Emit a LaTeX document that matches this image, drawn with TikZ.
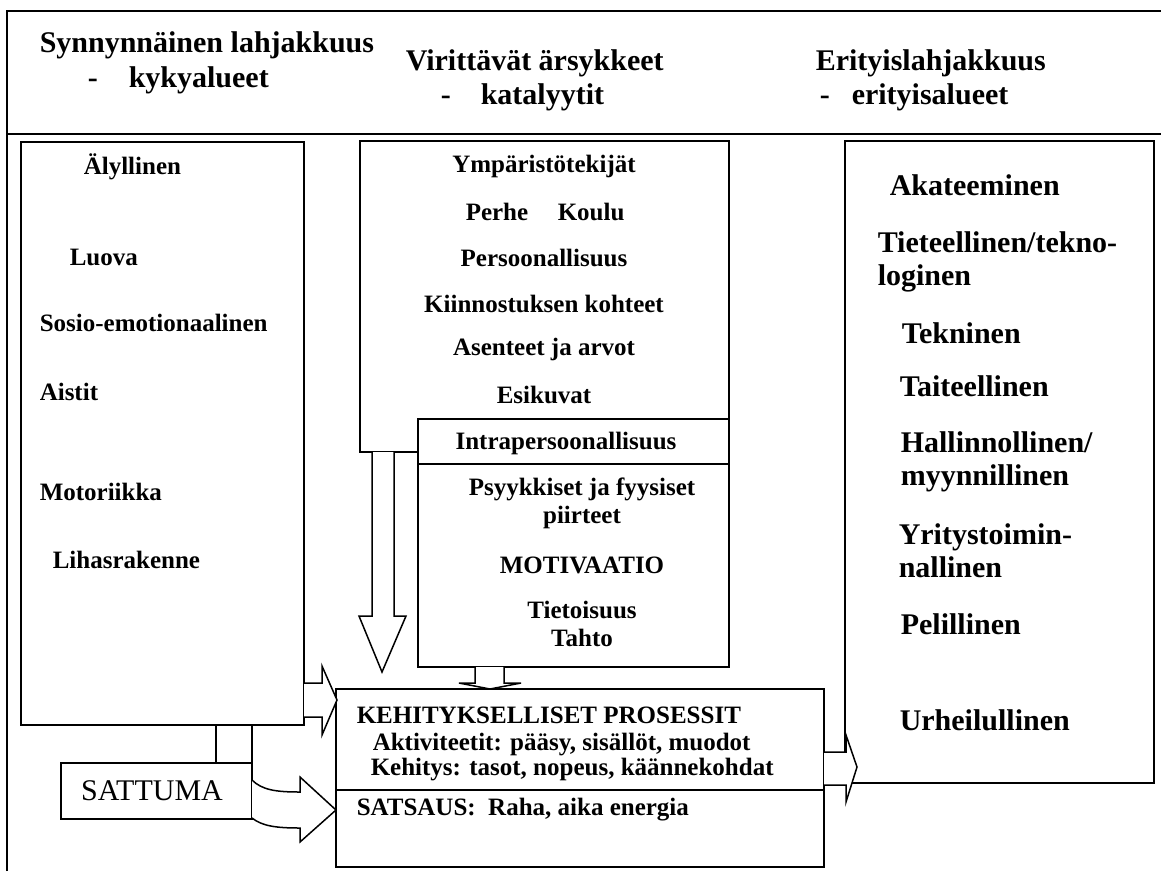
\documentclass[tikz,border=0pt]{standalone}
\usepackage{fontspec}
\setmainfont{Liberation Serif}

\begin{document}
\begin{tikzpicture}[x=1pt, y=-1pt, line width=1.5pt,
    head/.style={font=\fontsize{30}{34}\selectfont\bfseries, inner sep=0pt, anchor=base west},
    item/.style={font=\fontsize{25}{28}\selectfont\bfseries, inner sep=0pt, align=center},
    field/.style={font=\fontsize{30}{33}\selectfont\bfseries, inner sep=0pt, align=left, anchor=west}]
    \useasboundingbox (0,0) rectangle (1161,871);

    \path[draw] (7,871) -- (7,11) -- (1161,11)
                (7,134) -- (1161,134);

    \node[head] (hAbil) at (39,52) {Synnynnäinen lahjakkuus};
    \node[head] (dAbil) at (87,87) {-};
    \node[head] (sAbil) at (128,87) {kykyalueet};
    \node[head] (hCat) at (405,70) {Virittävät ärsykkeet};
    \node[head] (dCat) at (440,104) {-};
    \node[head] (sCat) at (480,104) {katalyytit};
    \node[head] (hTal) at (815,70) {Erityislahjakkuus};
    \node[head] (dTal) at (819,104) {-};
    \node[head] (sTal) at (851,104) {erityisalueet};

    \path[draw] (21,142) rectangle (304,725);
    \path[draw] (360,141) rectangle (729,452);
    \path[draw, fill=white] (418,419) rectangle (729,667)
                (418,464) -- (729,464);
    \path[draw, fill=white] (336,689) rectangle (824,867)
                (336,790) -- (824,790);
    \path[draw] (845,141) rectangle (1154,783);
    \path[draw] (61,763) rectangle (252,819);
    \path[draw] (216,725) -- (216,763)
                (252,725) -- (252,763);

    \node[item, anchor=west] (aInt) at (83,167) {Älyllinen};
    \node[item, anchor=west] (aCre) at (69,257) {Luova};
    \node[item, anchor=west] (aSoc) at (39,323) {Sosio-emotionaalinen};
    \node[item, anchor=west] (aSen) at (39,392) {Aistit};
    \node[item, anchor=west] (aMot) at (39,492) {Motoriikka};
    \node[item, anchor=west] (aMus) at (52,560) {Lihasrakenne};

    \node[item] (cEnv) at (544,166) {Ympäristötekijät};
    \node[item, anchor=west] (cFam) at (465,212) {Perhe};
    \node[item, anchor=west] (cSch) at (557,212) {Koulu};
    \node[item] (cPer) at (544,258) {Persoonallisuus};
    \node[item] (cInt) at (544,304) {Kiinnostuksen kohteet};
    \node[item] (cAtt) at (544,349) {Asenteet ja arvot};
    \node[item] (cMod) at (544,395) {Esikuvat};

    \node[item] (iHead) at (566,443) {Intrapersoonallisuus};
    \node[item] (iTra) at (582,503) {Psyykkiset ja fyysiset\\piirteet};
    \node[item] (iMot) at (582,565) {MOTIVAATIO};
    \node[item] (iAwa) at (582,624) {Tietoisuus\\Tahto};

    \node[item, anchor=west] (pHead) at (356,715) {KEHITYKSELLISET PROSESSIT};
    \node[item, anchor=west] (pAct) at (372,745) {Aktiviteetit: pääsy, sisällöt, muodot};
    \node[item, anchor=west] (pDev) at (370,770) {Kehitys: tasot, nopeus, käännekohdat};
    \node[item, anchor=west] (pInv) at (356,810) {SATSAUS:~ Raha, aika energia};

    \node[font=\fontsize{30}{34}\selectfont, inner sep=0pt] (chance) at (152,791) {SATTUMA};

    \node[field] (tAca) at (889,185) {Akateeminen};
    \node[field] (tSci) at (877,262) {Tieteellinen/tekno-\\loginen};
    \node[field] (tTec) at (901,333) {Tekninen};
    \node[field] (tArt) at (899,386) {Taiteellinen};
    \node[field] (tAdm) at (900,462) {Hallinnollinen/\\myynnillinen};
    \node[field] (tBus) at (898,551) {Yritystoimin-\\nallinen};
    \node[field] (tGam) at (900,624) {Pelillinen};
    \node[field] (tSpo) at (899,720) {Urheilullinen};

    \path[draw, fill=white] (372,452) -- (372,616) -- (359,616) -- (382,672) -- (406,616) -- (394,616) -- (394,452);
    \path[draw, fill=white] (475,667) -- (475,683) -- (459,683) -- (490,689) -- (521,683) -- (504,683) -- (504,667);
    \path[draw, fill=white] (304,683) -- (322,683) -- (322,666) -- (337,700) -- (322,735) -- (322,717) -- (304,717);
    \path[draw, fill=white] (252,780) .. controls (262,790) and (276,792) .. (300,792) -- (300,777) -- (336,810)
                -- (300,842) -- (300,828) .. controls (276,828) and (262,826) .. (252,818);
    \path[draw, fill=white] (824,752) -- (846,752) -- (846,735) -- (857,767) -- (846,802) -- (846,785) -- (824,785);
\end{tikzpicture}
\end{document}
